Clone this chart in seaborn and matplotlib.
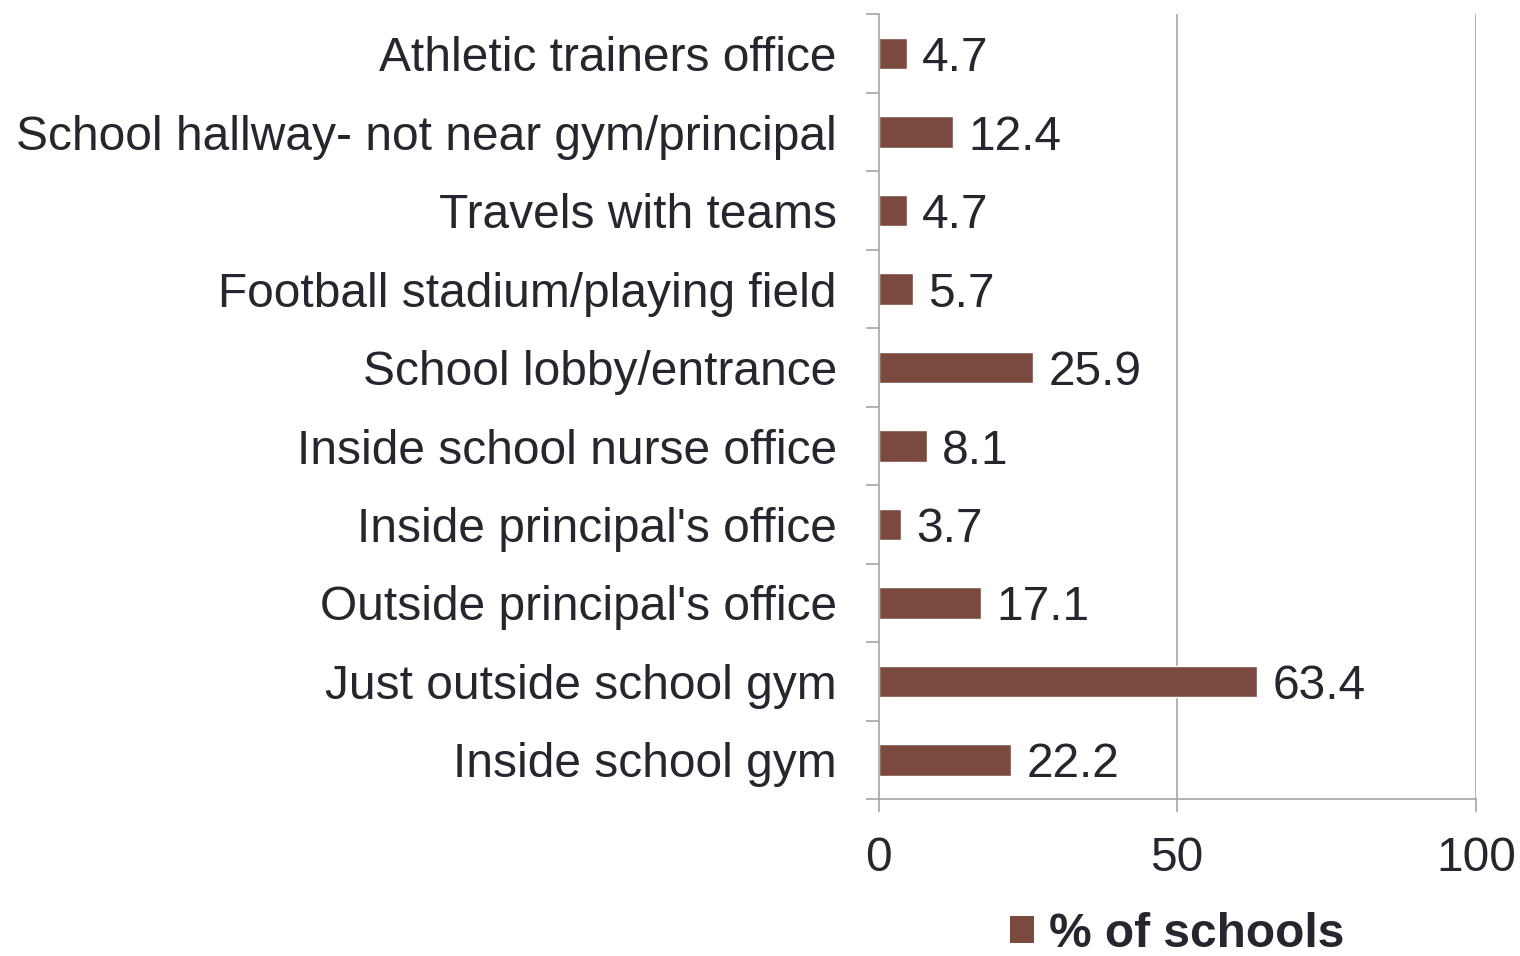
import numpy as np
import pandas as pd
import matplotlib
matplotlib.use("Agg")
import matplotlib.pyplot as plt
import seaborn as sns
from matplotlib.patches import Patch

# data, top to bottom as shown
locations = [
    "Athletic trainers office",
    "School hallway- not near gym/principal",
    "Travels with teams",
    "Football stadium/playing field",
    "School lobby/entrance",
    "Inside school nurse office",
    "Inside principal's office",
    "Outside principal's office",
    "Just outside school gym",
    "Inside school gym",
]
pct_schools = [4.7, 12.4, 4.7, 5.7, 25.9, 8.1, 3.7, 17.1, 63.4, 22.2]
x_ticks = [0, 50, 100]

df = pd.DataFrame({"Location": locations, "% of schools": pct_schools})

bar_color = "#7B4A3F"
text_color = "#26262E"
grid_color = "#A6A6A6"
fs = 34.5

sns.set_style("white")
plt.rcParams["font.family"] = ["Liberation Sans", "DejaVu Sans"]

fig = plt.figure(figsize=(15.2, 9.56), dpi=100)
ax = fig.add_axes([0.578, 0.164, 0.393, 0.821])

sns.barplot(data=df, x="% of schools", y="Location", orient="h",
            color=bar_color, width=0.4, saturation=1, ax=ax)

ax.set_xlim(0, 100)
ax.set_ylim(len(locations) - 0.5, -0.5)
ax.set_xlabel("")
ax.set_ylabel("")

# value labels
for c in ax.containers:
    anns = ax.bar_label(c, labels=[f"{v:.1f}" for v in pct_schools], padding=11,
                        fontsize=fs, color=text_color)
    for a in anns:
        a.set_va("center_baseline")

# axes styling
ax.set_xticks(x_ticks)
ax.set_xticklabels([str(t) for t in x_ticks])
ax.tick_params(axis="x", direction="out", length=9.5, width=1.2, color=grid_color,
               labelsize=fs, labelcolor=text_color, pad=17, bottom=True)
ax.set_yticks(range(len(locations)))
ax.set_yticklabels(locations)
ax.set_yticks(np.arange(-0.5, len(locations), 1), minor=True)
ax.tick_params(axis="y", which="major", length=0, pad=30,
               labelsize=fs, labelcolor=text_color)
ax.tick_params(axis="y", which="minor", direction="out", length=9.5, width=1.2,
               color=grid_color, left=True)

ax.grid(False)
for t in x_ticks[1:]:
    ax.axvline(t, color=grid_color, lw=1.2, zorder=0)

for s in ["top", "right"]:
    ax.spines[s].set_visible(False)
for s in ["left", "bottom"]:
    ax.spines[s].set_color(grid_color)
    ax.spines[s].set_linewidth(1.2)

handle = Patch(facecolor=bar_color, edgecolor="none")
ax.legend([handle], ["% of schools"], loc="center", bbox_to_anchor=(0.5, -0.172),
          frameon=False, handlelength=0.5, handleheight=0.5, handletextpad=0.3,
          borderpad=0.2, prop={"size": fs, "weight": "bold"}, labelcolor=text_color)

fig.savefig("out.png", dpi=100)
